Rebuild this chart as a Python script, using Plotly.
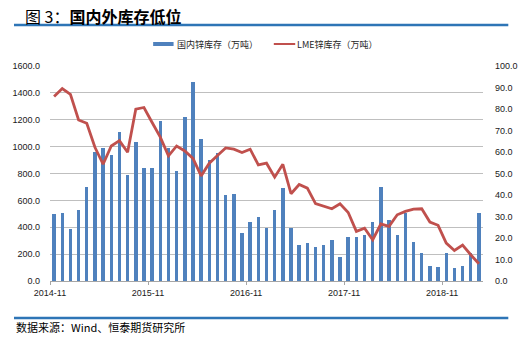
import plotly.graph_objects as go

# 月度库存数据：2014-11 至 2019-03
months = [
    "2014-11", "2014-12", "2015-01", "2015-02", "2015-03", "2015-04", "2015-05", "2015-06",
    "2015-07", "2015-08", "2015-09", "2015-10", "2015-11", "2015-12", "2016-01", "2016-02",
    "2016-03", "2016-04", "2016-05", "2016-06", "2016-07", "2016-08", "2016-09", "2016-10",
    "2016-11", "2016-12", "2017-01", "2017-02", "2017-03", "2017-04", "2017-05", "2017-06",
    "2017-07", "2017-08", "2017-09", "2017-10", "2017-11", "2017-12", "2018-01", "2018-02",
    "2018-03", "2018-04", "2018-05", "2018-06", "2018-07", "2018-08", "2018-09", "2018-10",
    "2018-11", "2018-12", "2019-01", "2019-02", "2019-03",
]

# 国内锌库存（万吨，左轴）
domestic_stock = [
    500, 508, 389, 528, 701, 959, 991, 939, 1110, 790, 1038, 842, 842, 1189, 991, 817,
    1224, 1481, 1055, 902, 951, 637, 649, 354, 438, 476, 391, 528, 689, 391, 270, 285,
    255, 270, 302, 178, 327, 327, 339, 436, 701, 456, 339, 508, 287, 211, 114, 107,
    206, 94, 114, 206, 503,
]

# LME锌库存（万吨，右轴）
lme_stock = [
    85.8, 89.5, 86.8, 74.9, 73.4, 62.2, 54.3, 62.8, 65.3, 59.9, 79.9, 80.7, 73.7, 66.9, 58.2, 62.8,
    60.5, 57.0, 48.9, 54.8, 58.4, 61.9, 61.3, 59.8, 61.3, 54.0, 54.8, 48.3, 54.3, 40.6, 44.9, 43.2,
    36.0, 34.9, 33.6, 35.9, 31.9, 23.1, 24.6, 19.2, 26.5, 25.4, 30.8, 32.4, 33.4, 33.6, 27.4, 25.9,
    17.6, 14.2, 16.7, 12.2, 8.0,
]

year_labels = ["2014-11", "2015-11", "2016-11", "2017-11", "2018-11"]
left_ticks = [0, 200, 400, 600, 800, 1000, 1200, 1400, 1600]
right_ticks = [0, 10, 20, 30, 40, 50, 60, 70, 80, 90, 100]

W, H = 530, 339
ML, MR, MT, MB = 46, 39, 66, 58
PW, PH = W - ML - MR, H - MT - MB


def px(x):
    return (x - ML) / PW


def py(y):
    return (H - MB - y) / PH


xs = list(range(len(months)))
year_pos = [months.index(m) - 0.5 for m in year_labels]

BLUE = "#4F81BD"
RED = "#C0504D"
FONT = "Liberation Sans, Arial, sans-serif"
CJK = "Noto Sans CJK SC, sans-serif"

fig = go.Figure()
fig.add_trace(go.Bar(
    x=xs, y=domestic_stock, name="国内锌库存（万吨）",
    marker=dict(color=BLUE, line=dict(width=0)), width=0.42,
    showlegend=False,
))
fig.add_trace(go.Scatter(
    x=xs, y=lme_stock, name="LME锌库存（万吨）", yaxis="y2",
    mode="lines", line=dict(color=RED, width=2.8),
    showlegend=False,
))

fig.update_layout(
    width=W, height=H,
    margin=dict(l=ML, r=MR, t=MT, b=MB, pad=0),
    paper_bgcolor="white", plot_bgcolor="white",
    bargap=0,
    xaxis=dict(
        range=[-0.5, len(months) - 0.5],
        tickmode="array", tickvals=year_pos, ticktext=year_labels,
        ticks="outside", ticklen=3, tickcolor="#a6a6a6",
        showline=True, linecolor="#a6a6a6", linewidth=1,
        showgrid=False, zeroline=False,
        tickfont=dict(family=FONT, size=9, color="#1a1a1a"),
    ),
    yaxis=dict(
        range=[0, 1600], tickmode="array", tickvals=left_ticks,
        ticktext=[f"{v:.1f}" for v in left_ticks],
        showgrid=True, gridcolor="#bfbfbf", gridwidth=1,
        zeroline=False, showline=False, ticks="", ticklabelstandoff=9,
        tickfont=dict(family=FONT, size=9, color="#1a1a1a"),
    ),
    yaxis2=dict(
        range=[0, 100], overlaying="y", side="right",
        tickmode="array", tickvals=right_ticks,
        ticktext=[f"{v:.1f}" for v in right_ticks],
        showgrid=False, zeroline=False, showline=False, ticks="", ticklabelstandoff=11,
        tickfont=dict(family=FONT, size=9, color="#1a1a1a"),
    ),
    shapes=[
        # 标题下方蓝色横线
        dict(type="line", xref="paper", yref="paper", x0=px(9), x1=px(517), y0=py(25), y1=py(25),
             line=dict(color="#2E75B6", width=2.5)),
        # 底部蓝色横线
        dict(type="line", xref="paper", yref="paper", x0=px(9), x1=px(517), y0=py(318), y1=py(318),
             line=dict(color="#2E75B6", width=2.5)),
        # 图例符号
        dict(type="rect", xref="paper", yref="paper", x0=px(152), x1=px(173), y0=py(42), y1=py(46),
             fillcolor=BLUE, line=dict(width=0)),
        dict(type="line", xref="paper", yref="paper", x0=px(276), x1=px(298), y0=py(44), y1=py(44),
             line=dict(color=RED, width=2)),
    ],
    annotations=[
        dict(text="图 3：<b>国内外库存低位</b>", xref="paper", yref="paper",
             x=px(18), y=py(16), xanchor="left", yanchor="middle", showarrow=False,
             font=dict(family=CJK, size=16, color="#000000")),
        dict(text="国内锌库存（万吨）", xref="paper", yref="paper",
             x=px(174), y=py(44), xanchor="left", yanchor="middle", showarrow=False,
             font=dict(family=CJK, size=9, color="#262626")),
        dict(text="LME锌库存（万吨）", xref="paper", yref="paper",
             x=px(298), y=py(44), xanchor="left", yanchor="middle", showarrow=False,
             font=dict(family=CJK, size=9, color="#262626")),
        dict(text="数据来源：Wind、恒泰期货研究所", xref="paper", yref="paper",
             x=px(9), y=py(327), xanchor="left", yanchor="middle", showarrow=False,
             font=dict(family=CJK, size=11, color="#000000")),
    ],
)

fig.write_html("out.html")
